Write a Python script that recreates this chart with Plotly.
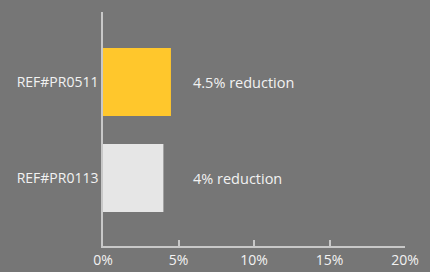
import plotly.graph_objects as go

categories = ["REF#PR0113", "REF#PR0511"]
values = [4.0, 4.5]
bar_colors = ["#E6E6E6", "#FFC72C"]
labels = ["4% reduction", "4.5% reduction"]
x_ticks = [0, 5, 10, 15, 20]
x_tick_text = ["0%", "5%", "10%", "15%", "20%"]
label_x = 5.8

bg = "#767676"
fg = "#F2F2F2"
axis_col = "#C8C8C8"
font_family = "Open Sans"

fig = go.Figure()
fig.add_trace(go.Bar(
    x=values, y=list(range(len(categories))), orientation="h",
    marker=dict(color=bar_colors, line=dict(width=0)),
    width=0.708, hoverinfo="skip",
))
for i, t in enumerate(labels):
    fig.add_annotation(x=label_x, y=i, text=t, showarrow=False,
                       xanchor="left", yanchor="middle",
                       font=dict(color=fg, size=14.5, family=font_family))

fig.update_layout(
    width=430, height=272,
    margin=dict(l=103, r=25, t=12, b=26),
    paper_bgcolor=bg, plot_bgcolor=bg,
    showlegend=False,
    font=dict(family=font_family, color=fg, size=14),
    xaxis=dict(range=[0, 20], tickvals=x_ticks, ticktext=x_tick_text,
               showgrid=False, zeroline=False, showline=True,
               linecolor=axis_col, linewidth=1.5, automargin=False,
               ticks="inside", ticklen=6, tickcolor=axis_col, tickwidth=1.5,
               ticklabelstandoff=0,
               tickfont=dict(color=fg, size=14, family=font_family), fixedrange=True),
    yaxis=dict(range=[-0.708, 1.729], tickvals=list(range(len(categories))),
               ticktext=categories, showgrid=False, zeroline=False, automargin=False,
               showline=True, linecolor=axis_col, linewidth=1.5, ticks="",
               tickfont=dict(color=fg, size=14, family=font_family), fixedrange=True),
)
fig.write_html("out.html", config={"displayModeBar": False},
               post_script="document.body.style.margin='0';document.body.style.overflow='hidden';")
